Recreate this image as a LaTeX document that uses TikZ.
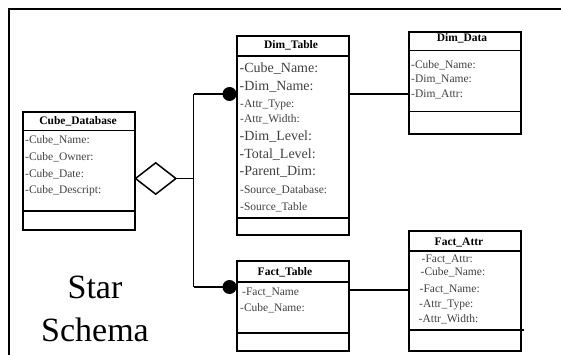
\documentclass[tikz,border=0pt]{standalone}
\usepackage{fontspec}
\setmainfont{Liberation Serif}
\usetikzlibrary{shapes.geometric,calc}

\begin{document}
\begin{tikzpicture}[x=1pt,y=-1pt,
  umlbox/.style={draw=black,line width=1.8pt,rectangle,inner sep=0pt,anchor=north west},
  sep/.style={draw=black,line width=1.8pt},
  link/.style={draw=black,line width=1.5pt},
  title/.style={inner sep=0pt,font=\fontsize{11.5}{13}\selectfont\bfseries},
  attr/.style={inner sep=0pt,anchor=west,text=black!75,font=\fontsize{11.5}{13}\selectfont},
  attrbig/.style={inner sep=0pt,anchor=west,text=black!75,font=\fontsize{14}{16}\selectfont},
  dot/.style={circle,fill=black,inner sep=0pt,minimum size=14pt},
  agg/.style={diamond,draw=black,line width=1.5pt,inner sep=0pt,minimum width=41pt,minimum height=32pt},
  big/.style={inner sep=0pt,font=\fontsize{34}{38}\selectfont}]

\useasboundingbox (0,0) rectangle (561,355);

% page frame
\draw[line width=1.8pt] (9,356) -- (9,9) -- (562,9);

% Cube_Database
\node[umlbox,minimum width=112pt,minimum height=118pt] (cube) at (22,111) {};
\draw[sep] (cube.west |- 0,130.6) -- (cube.east |- 0,130.6);
\draw[sep] (cube.west |- 0,211) -- (cube.east |- 0,211);
\node[title] (cubeT) at (78,121.5) {Cube\_Database};
\node[attr] (c1) at (25,140.6) {-Cube\_Name:};
\node[attr] (c2) at (25,157.4) {-Cube\_Owner:};
\node[attr] (c3) at (25,174) {-Cube\_Date:};
\node[attr] (c4) at (25,190.7) {-Cube\_Descript:};

% Dim_Table
\node[umlbox,minimum width=112pt,minimum height=199pt] (dimT) at (236,35) {};
\draw[sep] (dimT.west |- 0,56) -- (dimT.east |- 0,56);
\draw[sep] (dimT.west |- 0,218) -- (dimT.east |- 0,218);
\node[title] (dimTT) at (291,45.5) {Dim\_Table};
\node[attrbig] (d1) at (239.5,69) {-Cube\_Name:};
\node[attrbig] (d2) at (239.5,87) {-Dim\_Name:};
\node[attr] (d3) at (240,105) {-Attr\_Type:};
\node[attr] (d4) at (240,119) {-Attr\_Width:};
\node[attrbig] (d5) at (239.5,137) {-Dim\_Level:};
\node[attrbig] (d6) at (239.5,154.6) {-Total\_Level:};
\node[attrbig] (d7) at (239.5,172) {-Parent\_Dim:};
\node[attr] (d8) at (240,190) {-Source\_Database:};
\node[attr] (d9) at (240,207) {-Source\_Table};

% Dim_Data
\node[umlbox,minimum width=112pt,minimum height=102.5pt] (dimD) at (408,31) {};
\draw[sep] (dimD.west |- 0,50.5) -- (dimD.east |- 0,50.5);
\draw[sep] (dimD.west |- 0,111.6) -- (dimD.east |- 0,111.6);
\node[title] (dimDT) at (462,38.6) {Dim\_Data};
\node[attr] (e1) at (411,64.8) {-Cube\_Name:};
\node[attr] (e2) at (411,79.4) {-Dim\_Name:};
\node[attr] (e3) at (411,94) {-Dim\_Attr:};

% Fact_Table
\node[umlbox,minimum width=112pt,minimum height=90pt] (factT) at (236,260) {};
\draw[sep] (factT.west |- 0,281.6) -- (factT.east |- 0,281.6);
\draw[sep] (factT.west |- 0,333) -- (factT.east |- 0,333);
\node[title] (factTT) at (285,272.6) {Fact\_Table};
\node[attr] (f1) at (242,292.3) {-Fact\_Name};
\node[attr] (f2) at (240,308.4) {-Cube\_Name:};

% Fact_Attr
\node[umlbox,minimum width=112pt,minimum height=120pt] (factA) at (408,230) {};
\draw[sep] (factA.west |- 0,251) -- (factA.east |- 0,251);
\draw[sep] (factA.west |- 0,330) -- ([xshift=2pt]factA.east |- 0,330);
\node[title] (factAT) at (459,242.2) {Fact\_Attr};
\node[attr] (g1) at (421.5,259.4) {-Fact\_Attr:};
\node[attr] (g2) at (420.5,272.6) {-Cube\_Name:};
\node[attr] (g3) at (419.5,289) {-Fact\_Name:};
\node[attr] (g4) at (419,305) {-Attr\_Type:};
\node[attr] (g5) at (418.5,319.5) {-Attr\_Width:};

% aggregation diamond and branching connector
\node[agg] (agg) at (155.7,178.5) {};
\coordinate (branch) at (193.5,178.5);
\coordinate (branchTop) at (193.5,94);
\coordinate (branchBot) at (193.5,287);
\node[dot] (dimDot) at (229.5,94) {};
\node[dot] (factDot) at (229.5,287) {};
\draw[link] (agg.east) -- (branch);
\draw[link] (branchTop) -- (branchBot);
\draw[link] (branchTop) -- (dimDot.center);
\draw[link] (branchBot) -- (factDot.center);

% table-to-table links
\draw[link] (dimT.east |- 0,94) -- (dimD.west |- 0,94);
\draw[link] (factT.east |- 0,290) -- (factA.west |- 0,290);

% caption
\node[big] (star) at (95,287) {Star};
\node[big] (schema) at (95,330) {Schema};

\end{tikzpicture}
\end{document}
